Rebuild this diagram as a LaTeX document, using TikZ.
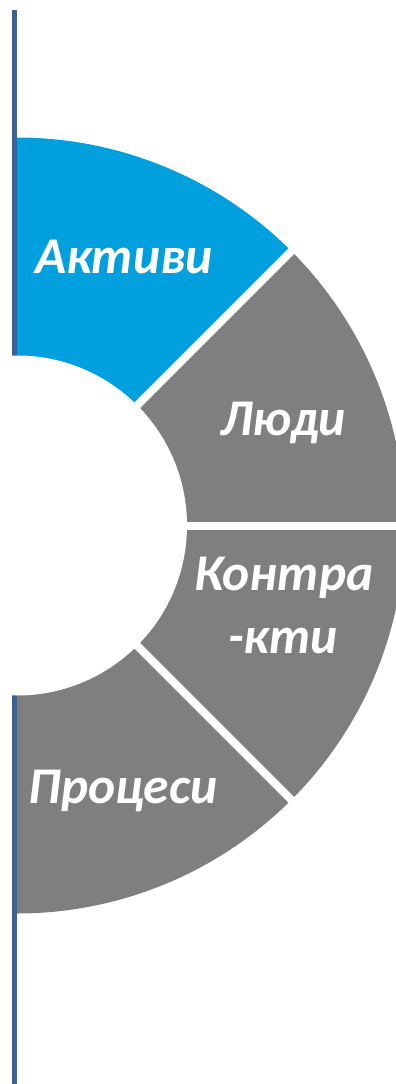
\documentclass[tikz,border=0pt]{standalone}
\usepackage{fontspec}
\setmainfont{Carlito}
\definecolor{linecol}{RGB}{57,99,150}
\definecolor{blueseg}{RGB}{0,160,222}
\definecolor{grayseg}{RGB}{127,127,127}
\begin{document}
\begin{tikzpicture}[x=1pt,y=1pt,
  lbl/.style={text=white, font=\fontsize{51.5}{63}\selectfont\bfseries\itshape, inner sep=0pt, anchor=base},
  sep/.style={white, line width=8pt}]
\useasboundingbox (0,0) rectangle (396,-1084);
\clip (0,0) rectangle (396,-1084);
\coordinate (c) at (17,-525.5);
\coordinate (lt) at (14.5,-10);
\coordinate (lb) at (14.5,-1090);
\draw[linecol, line width=5pt] (lt) -- (lb);
\fill[blueseg] (c) -- ++(90:388) arc[start angle=90,end angle=45,radius=388] -- cycle;
\fill[grayseg] (c) -- ++(45:388) arc[start angle=45,end angle=0,radius=388] -- cycle;
\fill[grayseg] (c) -- ++(0:388) arc[start angle=0,end angle=-45,radius=388] -- cycle;
\fill[grayseg] (c) -- ++(-45:388) arc[start angle=-45,end angle=-90,radius=388] -- cycle;
\foreach \a in {45,0,-45} \draw[sep] (c) -- ++(\a:430);
\fill[white] (c) circle[radius=170];
\node[lbl] (aktivi) at (124,-273) {Активи};
\node[lbl] (lyudi) at (283,-435) {Люди};
\node[lbl] (kontra1) at (284,-590) {Контра};
\node[lbl] (kontra2) at (283,-653) {-кти};
\node[lbl] (protsesi) at (123,-803) {Процеси};
\end{tikzpicture}
\end{document}
